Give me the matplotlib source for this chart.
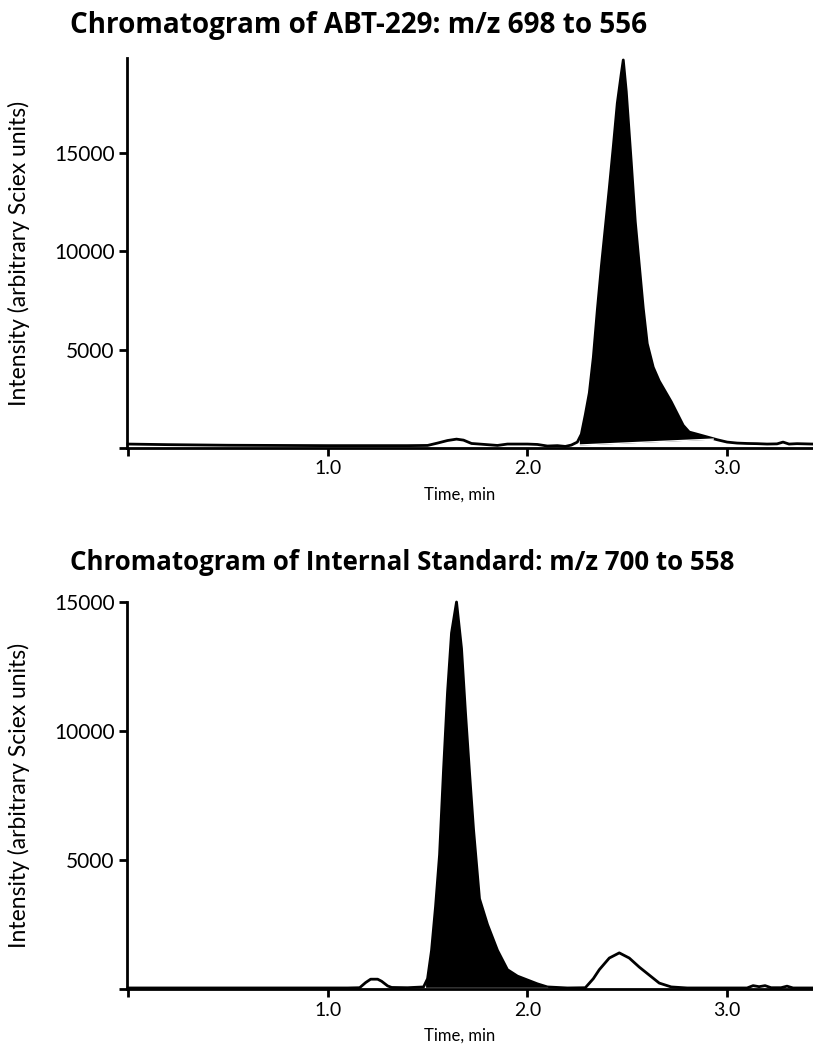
import matplotlib
matplotlib.use("Agg")
import matplotlib.pyplot as plt
import numpy as np

plt.rcParams['font.family'] = ['Lato', 'DejaVu Sans']

# ABT-229 trace (m/z 698 -> 556)
t_top = [0.0, 0.2, 0.5, 1.0, 1.4, 1.5, 1.55, 1.6, 1.645, 1.68, 1.72, 1.76, 1.85, 1.9,
         2.0, 2.05, 2.1, 2.15, 2.19, 2.22, 2.25, 2.27, 2.29, 2.31, 2.33, 2.35, 2.37,
         2.39, 2.41, 2.43, 2.45, 2.47, 2.48, 2.495, 2.52, 2.54, 2.56, 2.58, 2.6, 2.63,
         2.66, 2.7, 2.72, 2.75, 2.78, 2.81, 2.85, 2.9, 2.95, 3.0, 3.05, 3.1, 3.15, 3.2,
         3.25, 3.28, 3.31, 3.35, 3.43]
i_top = [200, 170, 140, 120, 120, 130, 250, 380, 450, 400, 230, 200, 130, 200,
         200, 180, 100, 120, 80, 150, 300, 700, 1700, 2800, 4600, 7000, 9200,
         11200, 13200, 15300, 17500, 19000, 19700, 18100, 14500, 11500, 9300, 7100, 5300, 4100,
         3400, 2700, 2350, 1750, 1150, 810, 700, 560, 420, 300, 250, 230, 220, 200,
         210, 300, 200, 220, 200]
top_peak = (2.26, 2.93)
top_base = (150, 450)

# Internal standard trace (m/z 700 -> 558)
t_bot = [0.0, 0.5, 1.0, 1.1, 1.16, 1.19, 1.215, 1.25, 1.27, 1.3, 1.32, 1.4, 1.48, 1.5,
         1.52, 1.54, 1.56, 1.58, 1.6, 1.62, 1.645, 1.67, 1.69, 1.71, 1.73, 1.76, 1.8,
         1.85, 1.9, 1.95, 2.0, 2.05, 2.1, 2.2, 2.29, 2.33, 2.36, 2.41, 2.46, 2.51, 2.56,
         2.61, 2.66, 2.72, 2.8, 3.0, 3.1, 3.13, 3.16, 3.19, 3.22, 3.27, 3.3, 3.33, 3.43]
i_bot = [40, 40, 40, 40, 50, 250, 380, 380, 300, 120, 60, 50, 80, 400,
         1500, 3200, 5200, 8500, 11500, 13800, 15000, 13200, 10700, 8400, 6200, 3500, 2500,
         1500, 750, 500, 350, 200, 80, 40, 50, 400, 750, 1200, 1400, 1200, 850,
         540, 230, 80, 40, 40, 40, 130, 90, 130, 50, 50, 110, 40, 40]
bot_peak = (1.49, 2.1)
bot_base = (40, 40)

titles = ["Chromatogram of ABT-229: m/z 698 to 556",
          "Chromatogram of Internal Standard: m/z 700 to 558"]
ylims = [19800, 15000]
yticks = [0, 5000, 10000, 15000]
xticks = [0, 1.0, 2.0, 3.0]

fig = plt.figure(figsize=(8.13, 10.49), dpi=100)
W, H = 813, 1049
ax_top = fig.add_axes([127 / W, (H - 448) / H, (W - 127) / W, 390 / H])
ax_bot = fig.add_axes([127 / W, (H - 989) / H, (W - 127) / W, 387 / H])


def draw(ax, t, i, peak, base, ymax):
    t = np.array(t, dtype=float)
    i = np.array(i, dtype=float)
    # shaded integrated peak above the straight integration baseline
    tt = np.linspace(peak[0], peak[1], 300)
    ii = np.interp(tt, t, i)
    bl = np.interp(tt, peak, base)
    ax.fill_between(tt, bl, np.maximum(ii, bl), color='black', lw=0)
    ax.plot(t, i, color='black', lw=2.0, solid_joinstyle='round', clip_on=False)
    ax.plot(peak, base, color='white', lw=1.0)

    ax.set_xlim(-0.005, 3.43)
    ax.set_ylim(0, ymax)
    ax.spines['top'].set_visible(False)
    ax.spines['right'].set_visible(False)
    ax.spines['left'].set_linewidth(2)
    ax.spines['bottom'].set_linewidth(2)
    ax.set_xticks(xticks)
    ax.set_xticklabels(['', '1.0', '2.0', '3.0'], fontsize=14)
    ax.set_yticks(yticks)
    ax.set_yticklabels(['', '5000', '10000', '15000'], fontsize=15)
    ax.tick_params(axis='both', direction='out', length=6, width=2, pad=3)
    ax.set_xlabel('Time, min', fontsize=12)
    ax.xaxis.set_label_coords(0.485, -0.1)
    ax.set_ylabel('Intensity (arbitrary Sciex units)', fontsize=16.5)
    ax.yaxis.set_label_coords(-0.142, 0.5)


draw(ax_top, t_top, i_top, top_peak, top_base, ylims[0])
draw(ax_bot, t_bot, i_bot, bot_peak, bot_base, ylims[1])

# titles: left edge at x=70 px, sized to the widths seen in the original
renderer = fig.canvas.get_renderer()
for title, yc, width_px in [(titles[0], 25, 578), (titles[1], 562, 665)]:
    txt = fig.text(70 / W, 1 - yc / H, title, fontsize=17, fontweight='bold',
                   family='Open Sans', va='center', ha='left')
    w = txt.get_window_extent(renderer).width
    txt.set_fontsize(17 * width_px / w)

fig.savefig('out.png', dpi=100)
